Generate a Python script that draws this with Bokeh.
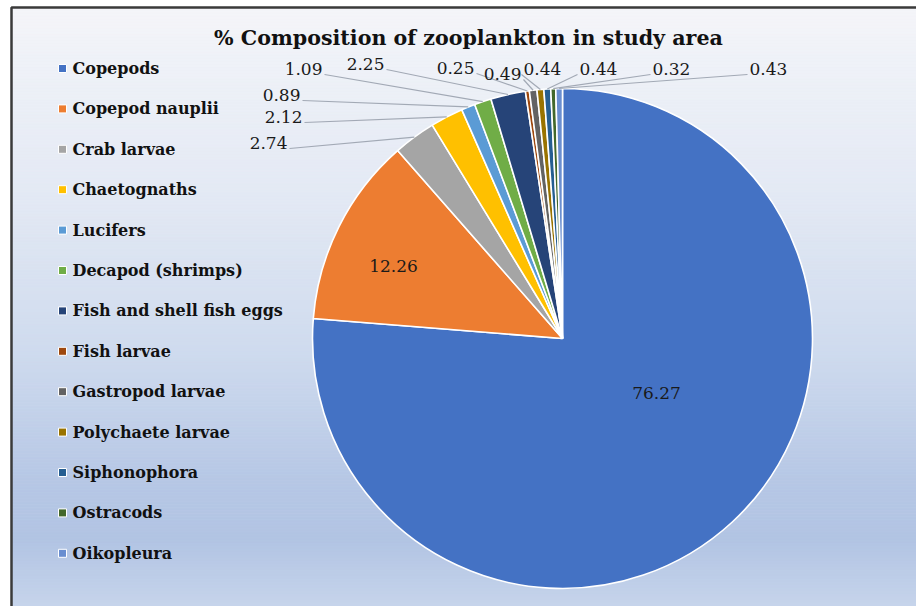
import math
from bokeh.plotting import figure
from bokeh.models import Range1d
from bokeh.core.properties import value
from bokeh.embed import file_html
from bokeh.resources import INLINE

# ---- data -------------------------------------------------------------
categories = [
    "Copepods", "Copepod nauplii", "Crab larvae", "Chaetognaths", "Lucifers",
    "Decapod (shrimps)", "Fish and shell fish eggs", "Fish larvae",
    "Gastropod larvae", "Polychaete larvae", "Siphonophora", "Ostracods",
    "Oikopleura",
]
percent = [76.27, 12.26, 2.74, 2.12, 0.89, 1.09, 2.25, 0.25, 0.49, 0.44, 0.44, 0.32, 0.43]
title = "% Composition of zooplankton in study area"

# ---- styling ----------------------------------------------------------
colors = ["#4472C4", "#ED7D31", "#A5A5A5", "#FFC000", "#5B9BD5", "#70AD47",
          "#264478", "#9E480E", "#636363", "#997300", "#255E91", "#43682B",
          "#698ED0"]
W, H = 916, 606
SERIF = value("DejaVu Serif")

def Y(y):
    # page coordinates (y down) -> plot coordinates (y up)
    return H - y

cx, cy, R = 562, Y(338), 250

# placement of the callout labels for the small slices:
# (slice index, anchor x, anchor y, text alignment)
callouts = [
    (2, 287, 142, "right"), (3, 302, 116, "right"), (4, 300, 94, "right"),
    (5, 322, 68, "right"), (6, 384, 63, "right"), (7, 474, 67, "right"),
    (8, 521, 73, "right"), (9, 523, 68, "left"), (10, 579, 68, "left"),
    (11, 652, 68, "left"), (12, 749, 68, "left"),
]
# label anchors inside the two large slices
inside = {0: (656, 392), 1: (393, 265)}

p = figure(width=W, height=H, x_range=Range1d(0, W), y_range=Range1d(0, H),
           output_backend="svg", toolbar_location=None, min_border=0)
p.axis.visible = False
p.grid.visible = False
p.outline_line_color = None
p.background_fill_color = "white"
p.border_fill_color = "white"

# ---- gradient backdrop inside the frame ------------------------------
stops = [(7, (0xf5, 0xf5, 0xf9)), (60, (0xef, 0xf2, 0xf8)), (200, (0xe3, 0xe9, 0xf4)),
         (350, (0xcf, 0xdb, 0xee)), (480, (0xb6, 0xc7, 0xe5)), (540, (0xb2, 0xc4, 0xe3)),
         (606, (0xc6, 0xd4, 0xeb))]

def grad(y):
    for (y0, c0), (y1, c1) in zip(stops[:-1], stops[1:]):
        if y0 <= y <= y1:
            t = (y - y0) / (y1 - y0)
            return "#%02x%02x%02x" % tuple(int(round(a + (b - a) * t)) for a, b in zip(c0, c1))
    return "#%02x%02x%02x" % stops[-1][1]

n_strips = 200
edges = [7 + (H - 7) * i / n_strips for i in range(n_strips + 1)]
strip_colors = [grad((a + b) / 2) for a, b in zip(edges[:-1], edges[1:])]
p.quad(left=11, right=W,
       top=[Y(e) + 0.5 for e in edges[:-1]], bottom=[Y(e) for e in edges[1:]],
       fill_color=strip_colors, line_color=strip_colors, line_width=0.5)

# frame
p.line([11, 11, W], [0, Y(7), Y(7)], line_color="#3a3a3a", line_width=2.5)

# ---- pie --------------------------------------------------------------
total = sum(percent)
cum = [0.0]
for v in percent:
    cum.append(cum[-1] + v / total)
start = [math.pi / 2 - 2 * math.pi * c for c in cum[:-1]]
end = [math.pi / 2 - 2 * math.pi * c for c in cum[1:]]
mid = [(a + b) / 2 for a, b in zip(start, end)]

p.wedge(x=cx, y=cy, radius=R, start_angle=start, end_angle=end, direction="clock",
        fill_color=colors, line_color="white", line_width=1.6)

# labels inside the two large slices
for i, (lx, ly) in inside.items():
    p.text(x=[lx], y=[Y(ly)], text=["%.2f" % percent[i]], text_align="center",
           text_baseline="middle", text_font=SERIF, text_font_size="17px",
           text_color="#1a1a1a")

# callout labels with leader lines to the rim of their slice
for i, ax, ay, align in callouts:
    tx = cx + R * math.cos(mid[i])
    ty = cy + R * math.sin(mid[i])
    sx = ax + 2 if align == "right" else ax - 2
    p.line([sx, tx], [Y(ay + 6), ty], line_color="#a2a9b5", line_width=1.2)
    p.text(x=[ax], y=[Y(ay)], text=["%.2f" % percent[i]], text_align=align,
           text_baseline="middle", text_font=SERIF, text_font_size="17px",
           text_color="#1a1a1a")

# ---- legend -----------------------------------------------------------
leg_y = [Y(68 + 40.4 * k) for k in range(len(categories))]
p.scatter(x=62, y=leg_y, marker="square", size=8, fill_color=colors,
          line_color="white", line_width=1)
p.text(x=72, y=leg_y, text=categories, text_baseline="middle",
       text_font=SERIF, text_font_style="bold", text_font_size="16px",
       text_color="#111111")

# ---- title ------------------------------------------------------------
p.text(x=[468], y=[Y(37)], text=[title], text_align="center", text_baseline="middle",
       text_font=SERIF, text_font_style="bold", text_font_size="20.6px",
       text_color="#111111")

open("out.html", "w").write(file_html(p, INLINE))
